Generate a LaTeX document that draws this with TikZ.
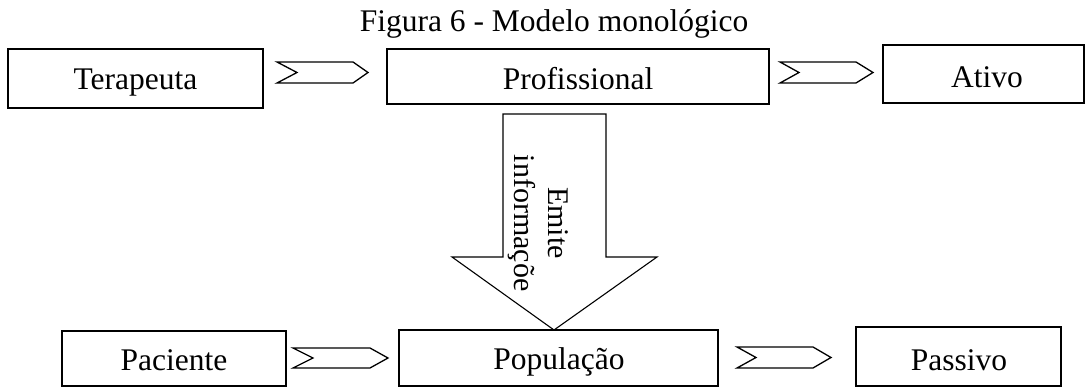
\documentclass[tikz,border=0pt]{standalone}
\usepackage{fontspec}
\setmainfont{Liberation Serif}
\begin{document}
\begin{tikzpicture}[x=1pt,y=-1pt,
  every node/.style={font=\fontsize{31.5}{34}\selectfont, inner sep=0pt},
  lbl/.style={anchor=base},
  box/.style={draw, line width=1.3pt},
  chev/.style={draw, line width=1.3pt, line join=miter},
  bigarrow/.style={draw, line width=1.1pt, line join=miter}]
\useasboundingbox (0,0) rectangle (1086,387);

% title
\node[lbl] (title) at (554,32) {Figura 6 - Modelo monológico};

% upper row
\draw[box] (8,49) rectangle (263,108);
\node[lbl] (terapeuta) at (135.5,90) {Terapeuta};
\draw[box] (387,49) rectangle (769,104);
\node[lbl] (profissional) at (578,90) {Profissional};
\draw[box] (883,45) rectangle (1084,103);
\node[lbl] (ativo) at (987,88) {Ativo};

% lower row
\draw[box] (62,331) rectangle (286,386);
\node[lbl] (paciente) at (174,370) {Paciente};
\draw[box] (399,330) rectangle (718,386);
\node[lbl] (populacao) at (559,369) {População};
\draw[box] (856,327) rectangle (1061,386);
\node[lbl] (passivo) at (959,370) {Passivo};

% chevron connectors: left x, notch x, shoulder x, tip x, top y, bottom y
\newcommand{\chevron}[6]{%
  \draw[chev] (#1,#5) -- (#3,#5) -- (#4,{(#5+#6)/2}) -- (#3,#6) -- (#1,#6)
    -- (#2,{(#5+#6)/2}) -- cycle;}
\chevron{277}{297}{353}{368}{62}{83}
\chevron{780}{799}{856}{873}{62}{83}
\chevron{293}{313}{370}{388}{348}{368}
\chevron{737}{756}{813}{831}{347}{368}

% block arrow from Profissional down to População
\draw[bigarrow] (503,114) -- (606,114) -- (606,257) -- (657,257) -- (554,330)
  -- (452,257) -- (503,257) -- cycle;
\node[rotate=-90, align=center, font=\fontsize{30}{34}\selectfont] (emite) at (538,223)
  {Emite\\informaçõe};
\end{tikzpicture}
\end{document}
